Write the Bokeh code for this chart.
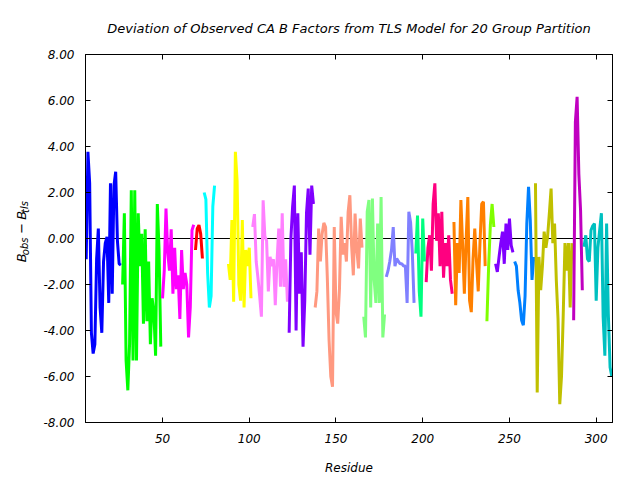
from bokeh.plotting import figure
from bokeh.layouts import row
from bokeh.models import LinearAxis, FixedTicker, NumeralTickFormatter, Span
from bokeh.core.properties import value
from bokeh.embed import file_html
from bokeh.resources import INLINE

TITLE = "Deviation of Observed CA B Factors from TLS Model for 20 Group Partition"
X_LABEL = "Residue"
Y_TICKS = [-8, -6, -4, -2, 0, 2, 4, 6, 8]
X_TICKS = [50, 100, 150, 200, 250, 300]

# first residue of each TLS group and the group colours
group_start = [6, 27, 50, 69, 74, 88, 102, 123, 138, 166,
               179, 196, 202, 218, 237, 242, 253, 265, 287, 293]
group_color = ["#0000ff", "#00ff00", "#ff00ff", "#ff0000", "#00ffff",
               "#ffff00", "#ff80ff", "#8000ff", "#ff9980", "#80ff80",
               "#8080ff", "#00ff80", "#ff0080", "#ff8000", "#80ff00",
               "#8000ff", "#0080ff", "#c0c000", "#c000c0", "#00c0c0"]

g01 = [-0.9, 3.77, 2.4, -4.1, -5.0, -4.6, -0.9, 0.43, -3.0, -4.1, -1.0,
       -0.2, 0.07, -2.8, 2.4, -2.4, 2.3, 2.9, -0.1, -1.1, -1.16]
g02 = [-2.0, 1.1, -5.3, -6.6, -4.6, 2.1, -5.3, 2.1, -5.3, 1.1, -1.2, 0.2,
       -3.7, 0.4, -3.6, -1.0, -4.6, -2.6, -3.2, -5.1, 1.5, -0.5, -4.7]
g03 = [-2.6, -1.4, 1.3, -0.6, -1.4, 0.4, -2.4, -0.4, -2.2, -1.6, -3.5,
       -0.5, -2.2, -1.5, -2.0, -4.3, -3.0, 0.36, 0.6]
g04 = [-0.5, 0.43, 0.58, 0.2, -0.87]
g05 = [2.0, 1.7, -1.5, -3.0, -2.5, 1.4, 2.3]
g06 = [-1.1, -1.8, 0.8, -2.75, 3.77, 2.5, -2.0, -2.7, 0.8, -3.0, -0.5,
       -1.2, -0.4, -2.6]
g07 = [0.5, 1.06, -1.0, -1.7, -2.5, -3.4, 1.66, 0.1, -0.1, -2.3, -0.8,
       -1.2, -0.9, -2.9, -1.0, 0.43, -2.1, 1.1, -2.1, -0.9, -2.75]
g08 = [-4.1, 0.0, 1.4, 2.3, -4.0, 1.1, -2.4, -0.6, -4.7, -2.7, 1.1, 2.17,
       -0.7, 2.3, 1.5]
g09 = [-3.0, -2.3, 0.43, -1.0, 0.2, 0.68, 0.5, -1.7, -4.4, -6.0, -6.45,
       0.5, -3.2, -3.7, -2.2, 0.94, -0.7, -0.2, -1.0, 1.16, 1.88, -0.3,
       -1.6, 1.08, -0.5, -1.3, 0.87, -0.4]
g10 = [-3.4, -4.3, 1.16, 1.67, -3.0, 1.74, -1.8, -2.8, 0.65, -2.8, 1.8,
       -4.3, -3.3]
g11 = [-1.67, -1.4, -1.0, -0.5, 0.5, -1.2, -0.87, -1.0, -1.1, -1.1, -1.2,
       -1.2, -2.8, 1.16, 0.7, -0.6, -2.8]
g12 = [-0.65, 1.0, -2.3, -3.4, 0.87, -1.0]
g13 = [-1.9, -0.4, 0.14, -1.4, 1.5, 2.4, -0.1, 1.1, -1.2, 1.16, -1.7,
       -0.2, -1.2, 0.14, -1.8, -2.4]
g14 = [0.72, -2.9, -0.2, -1.5, 1.67, -0.3, -2.4, -0.1, 1.8, -2.7, -3.2,
       -0.9, 0.43, -1.0, -2.3, -0.2, 1.5, 1.6, -1.2]
g15 = [-3.6, -1.2, 0.6, 1.5, 0.5]
g16 = [-1.1, -1.45, -0.8, -0.2, 0.3, -1.1, 0.65, -0.5, 0.87, -0.3, -0.6]
g17 = [-1.0, -1.2, -2.25, -2.8, -3.55, -3.77, -2.5, 0.65, 2.25, 0.8,
       -1.8, -0.8]
g18 = [2.4, -6.7, -0.8, -2.25, -1.2, 0.3, -0.4, 0.1, 1.1, 2.17, -0.2,
       0.65, -1.8, -3.5, -7.2, -6.0, -3.3, -0.2, -1.4, -0.2, -3.0, -0.2]
g19 = [-3.55, 5.07, 6.16, 2.8, 1.2, -2.25]
g20 = [-0.36, 0.14, -0.9, -1.0, 0.36, 0.55, 0.65, -2.7, -0.4, 0.36, 1.1,
       -3.4, -5.1, 0.65, -3.3, -5.6, -6.0]

groups = [g01, g02, g03, g04, g05, g06, g07, g08, g09, g10,
          g11, g12, g13, g14, g15, g16, g17, g18, g19, g20]

# y-axis label "B_obs - B_tls", split into main text and subscripts
ylab_main = ["B", "\u2212", "B"]
ylab_sub = ["obs", "tls"]

FONT = "DejaVu Sans"
LAB_W, FIG_H = 36, 472

p = figure(frame_width=527, frame_height=368,
           x_range=(5.6, 309.4), y_range=(-8, 8),
           output_backend="svg", toolbar_location=None,
           min_border_left=85 - LAB_W, min_border_right=20,
           min_border_top=54, min_border_bottom=50,
           title=TITLE)
p.background_fill_color = "white"
p.border_fill_color = "white"
p.outline_line_color = "black"
p.outline_line_width = 1
p.grid.visible = False

p.title.align = "center"
p.title.text_font = FONT
p.title.text_font_style = "italic"
p.title.text_font_size = "13px"
p.title.text_color = "black"
p.title.standoff = 37

# zero line, beneath the data
p.add_layout(Span(location=0, dimension="width", line_color="black",
                  line_width=1, level="underlay"))

for start, vals, col in zip(group_start, groups, group_color):
    xs = list(range(start, start + len(vals)))
    p.line(xs, vals, line_color=col, line_width=3)

def style_axis(ax, ticks, show_labels=True, standoff=11):
    ax.ticker = FixedTicker(ticks=ticks)
    ax.major_tick_in = 5
    ax.major_tick_out = 0
    ax.minor_tick_line_color = None
    ax.axis_line_color = "black"
    ax.major_tick_line_color = "black"
    ax.major_label_text_font = FONT
    ax.major_label_text_font_style = "italic"
    ax.major_label_text_font_size = "12px"
    ax.major_label_text_color = "black"
    ax.major_label_standoff = standoff
    if not show_labels:
        ax.major_label_overrides = {t: "" for t in ticks}
        ax.major_label_text_font_size = "0px"
        ax.major_label_standoff = 0

xa = p.xaxis[0]
style_axis(xa, X_TICKS, standoff=11)
xa.axis_label = X_LABEL
xa.axis_label_text_font = FONT
xa.axis_label_text_font_style = "italic"
xa.axis_label_text_font_size = "12px"
xa.axis_label_text_color = "black"
xa.axis_label_standoff = 15

ya = p.yaxis[0]
style_axis(ya, Y_TICKS, standoff=11)
ya.formatter = NumeralTickFormatter(format="0.00")

top = LinearAxis()
style_axis(top, X_TICKS, show_labels=False)
p.add_layout(top, "above")
right = LinearAxis()
style_axis(right, Y_TICKS, show_labels=False)
p.add_layout(right, "right")

# narrow strip on the left carrying the rotated y-axis label
lab = figure(width=LAB_W, height=FIG_H, x_range=(0, LAB_W), y_range=(0, FIG_H),
             output_backend="svg", toolbar_location=None,
             min_border=0, x_axis_type=None, y_axis_type=None)
lab.outline_line_color = None
lab.grid.visible = False
lab.background_fill_color = "white"
lab.border_fill_color = "white"

main_x = [21, 21, 21]
main_y = [FIG_H - 270, FIG_H - 233, FIG_H - 215]
sub_x = [24.5, 24.5]
sub_y = [FIG_H - 261, FIG_H - 206]
lab.text(x=main_x, y=main_y, text=ylab_main, angle=1.5708,
         text_font=value(FONT), text_font_style="italic",
         text_font_size="13px", text_color="black",
         text_align="left", text_baseline="alphabetic")
lab.text(x=sub_x, y=sub_y, text=ylab_sub, angle=1.5708,
         text_font=value(FONT), text_font_style="italic",
         text_font_size="10px", text_color="black",
         text_align="left", text_baseline="alphabetic")

layout = row(lab, p)
open("out.html", "w").write(file_html(layout, INLINE))
